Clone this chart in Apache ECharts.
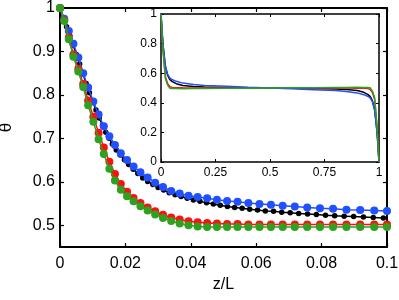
<!DOCTYPE html>
<html>
<head>
<meta charset="utf-8">
<script src="https://cdn.jsdelivr.net/npm/echarts@6/dist/echarts.min.js"></script>
<style>
html,body{margin:0;padding:0;background:#fff;}
#chart{width:399px;height:300px;}
</style>
</head>
<body>
<div id="chart"></div>
<script>
// ---------- main plot data (z/L in [0, 0.1]) ----------
const zMain = [0, 0.0013, 0.0027, 0.0041, 0.0056, 0.0071, 0.0086, 0.0102, 0.0118, 0.0134, 0.0151, 0.0168, 0.0186, 0.0205, 0.0225, 0.0246, 0.0268, 0.0291, 0.0315, 0.034, 0.0366, 0.0393, 0.0421, 0.045, 0.048, 0.0511, 0.0543, 0.0576, 0.061, 0.0645, 0.0681, 0.0718, 0.0756, 0.0795, 0.0835, 0.0876, 0.0918, 0.0961, 0.1];
const thetaBlue = [1.0, 0.975, 0.947, 0.918, 0.886, 0.850, 0.817, 0.785, 0.755, 0.728, 0.705, 0.685, 0.666, 0.650, 0.635, 0.622, 0.610, 0.598, 0.588, 0.579, 0.573, 0.568, 0.565, 0.562, 0.559, 0.556, 0.554, 0.551, 0.549, 0.547, 0.545, 0.543, 0.541, 0.539, 0.538, 0.536, 0.535, 0.534, 0.533];
const thetaRed = [1.0, 0.972, 0.932, 0.893, 0.860, 0.825, 0.787, 0.750, 0.713, 0.679, 0.646, 0.618, 0.595, 0.577, 0.563, 0.551, 0.541, 0.532, 0.524, 0.518, 0.513, 0.509, 0.507, 0.505, 0.504, 0.503, 0.503, 0.502, 0.502, 0.502, 0.502, 0.502, 0.502, 0.502, 0.502, 0.502, 0.502, 0.502, 0.502];
const thetaGreen = [1.0, 0.970, 0.928, 0.888, 0.854, 0.818, 0.776, 0.738, 0.698, 0.664, 0.630, 0.603, 0.582, 0.567, 0.555, 0.544, 0.534, 0.525, 0.517, 0.510, 0.504, 0.500, 0.497, 0.496, 0.496, 0.496, 0.496, 0.496, 0.496, 0.496, 0.496, 0.496, 0.496, 0.496, 0.496, 0.496, 0.496, 0.496, 0.496];
const zBlack = [0, 0.001, 0.002, 0.003, 0.004, 0.005, 0.006, 0.007, 0.008, 0.009, 0.010, 0.011, 0.012, 0.013, 0.014, 0.015, 0.016, 0.0172, 0.0184, 0.0197, 0.021, 0.0224, 0.0238, 0.0253, 0.0268, 0.0284, 0.03, 0.0317, 0.0334, 0.0352, 0.037, 0.0389, 0.0408, 0.0428, 0.0448, 0.0469, 0.049, 0.0512, 0.0534, 0.0557, 0.058, 0.0604, 0.0628, 0.0653, 0.0678, 0.0704, 0.073, 0.0757, 0.0784, 0.0812, 0.084, 0.0869, 0.0898, 0.0928, 0.0958, 0.0989];
const thetaBlack = [1.0, 0.978, 0.957, 0.936, 0.914, 0.893, 0.871, 0.848, 0.826, 0.805, 0.785, 0.765, 0.747, 0.730, 0.714, 0.700, 0.687, 0.673, 0.662, 0.651, 0.640, 0.629, 0.619, 0.609, 0.601, 0.594, 0.587, 0.581, 0.575, 0.570, 0.566, 0.562, 0.558, 0.555, 0.552, 0.549, 0.546, 0.543, 0.541, 0.539, 0.537, 0.535, 0.533, 0.532, 0.530, 0.529, 0.527, 0.526, 0.525, 0.523, 0.522, 0.521, 0.520, 0.519, 0.518, 0.517];

// ---------- inset data (z/L in [0, 1]) ----------
const zInset = [0, 0.005, 0.01, 0.02, 0.03, 0.04, 0.05, 0.07, 0.1, 0.15, 0.2, 0.3, 0.4, 0.5, 0.6, 0.7, 0.8, 0.85, 0.9, 0.93, 0.95, 0.96, 0.97, 0.98, 0.99, 0.995, 1];
const insetBlack = [1, 0.875, 0.78, 0.645, 0.587, 0.558, 0.545, 0.529, 0.517, 0.51, 0.507, 0.504, 0.502, 0.5, 0.498, 0.496, 0.493, 0.49, 0.483, 0.471, 0.455, 0.442, 0.413, 0.355, 0.22, 0.125, 0];
const insetRed = [1, 0.865, 0.75, 0.578, 0.53, 0.51, 0.504, 0.502, 0.501, 0.5, 0.5, 0.5, 0.5, 0.5, 0.5, 0.5, 0.5, 0.5, 0.499, 0.498, 0.496, 0.49, 0.47, 0.422, 0.25, 0.135, 0];
const insetBlue = [1, 0.88, 0.785, 0.65, 0.593, 0.568, 0.557, 0.545, 0.533, 0.524, 0.517, 0.511, 0.505, 0.5, 0.495, 0.489, 0.483, 0.476, 0.467, 0.455, 0.443, 0.432, 0.407, 0.35, 0.215, 0.12, 0];
const insetGreen = [1, 0.855, 0.737, 0.566, 0.521, 0.499, 0.496, 0.496, 0.4955, 0.4965, 0.497, 0.498, 0.499, 0.5, 0.501, 0.502, 0.503, 0.5035, 0.5045, 0.504, 0.504, 0.501, 0.479, 0.434, 0.263, 0.145, 0];

// ---------- ticks ----------
const mainYTicks = [0.5, 0.6, 0.7, 0.8, 0.9, 1];

const BLUE = '#2050ff', RED = '#ff1010', GREEN = '#2fa020', BLACK = '#000000';
const FONT = 'Liberation Sans, Arial, Helvetica, sans-serif';

function zip(xs, ys) { return xs.map((x, i) => [x, ys[i]]); }
function fmt(v) { return String(parseFloat(Number(v).toFixed(4))); }

const chart = echarts.init(document.getElementById('chart'), null, {renderer: 'canvas'});

const axisLineMain = {show: true, onZero: false, lineStyle: {color: '#000', width: 2}};
const tickMain = {show: true, inside: true, length: 4, lineStyle: {color: '#000', width: 1.2}};
const axisLineIn = {show: true, onZero: false, lineStyle: {color: '#000', width: 1.5}};
const tickIn = {show: true, inside: true, length: 3, lineStyle: {color: '#000', width: 1}};

function mainSeries(name, xs, ys, color, size, z) {
  return {
    name, type: 'line', xAxisIndex: 0, yAxisIndex: 0, data: zip(xs, ys),
    symbol: 'circle', symbolSize: size, showSymbol: true,
    itemStyle: {color: color, borderWidth: 0},
    lineStyle: {color: color, width: 1.5},
    animation: false, z: z, silent: true
  };
}
function insetSeries(name, ys, color, z) {
  return {
    name, type: 'line', xAxisIndex: 2, yAxisIndex: 2, data: zip(zInset, ys),
    symbol: 'none', lineStyle: {color: color, width: 1.5},
    animation: false, z: z, silent: true
  };
}

chart.setOption({
  backgroundColor: '#fff',
  animation: false,
  grid: [
    {left: 60, top: 8, width: 327, height: 239, show: false, containLabel: false, outerBoundsMode: 'none'},
    {left: 161, top: 14, width: 218, height: 148, show: true, backgroundColor: '#fff', borderWidth: 0, z: 3, containLabel: false, outerBoundsMode: 'none'}
  ],
  xAxis: [
    {type: 'value', gridIndex: 0, min: 0, max: 0.1, interval: 0.02, position: 'bottom',
     axisLine: axisLineMain, axisTick: tickMain, splitLine: {show: false},
     axisLabel: {color: '#000', fontSize: 16, fontFamily: FONT, margin: 9, formatter: fmt},
     name: 'z/L', nameLocation: 'middle', nameGap: 29,
     nameTextStyle: {color: '#000', fontSize: 16, fontFamily: FONT}},
    {type: 'value', gridIndex: 0, min: 0, max: 0.1, interval: 0.02, position: 'top',
     axisLine: axisLineMain, axisTick: tickMain, splitLine: {show: false}, axisLabel: {show: false}},
    {type: 'value', gridIndex: 1, min: 0, max: 1, interval: 0.25, position: 'bottom', z: 4,
     axisLine: axisLineIn, axisTick: tickIn, splitLine: {show: false},
     axisLabel: {color: '#000', fontSize: 12, fontFamily: FONT, margin: 5, formatter: fmt}},
    {type: 'value', gridIndex: 1, min: 0, max: 1, interval: 0.25, position: 'top', z: 4,
     axisLine: axisLineIn, axisTick: tickIn, splitLine: {show: false}, axisLabel: {show: false}}
  ],
  yAxis: [
    {type: 'value', gridIndex: 0, min: 0.45, max: 1, position: 'left',
     axisLine: axisLineMain, axisTick: Object.assign({customValues: mainYTicks}, tickMain), splitLine: {show: false},
     axisLabel: {customValues: mainYTicks, color: '#000', fontSize: 16, fontFamily: FONT, margin: 5, formatter: fmt},
     name: 'θ', nameLocation: 'middle', nameGap: 45, nameRotate: 90,
     nameTextStyle: {color: '#000', fontSize: 17, fontFamily: FONT}},
    {type: 'value', gridIndex: 0, min: 0.45, max: 1, position: 'right',
     axisLine: axisLineMain, axisTick: Object.assign({customValues: mainYTicks}, tickMain), splitLine: {show: false},
     axisLabel: {show: false}},
    {type: 'value', gridIndex: 1, min: 0, max: 1, interval: 0.2, position: 'left', z: 4,
     axisLine: axisLineIn, axisTick: tickIn, splitLine: {show: false},
     axisLabel: {color: '#000', fontSize: 12, fontFamily: FONT, margin: 4, formatter: fmt}},
    {type: 'value', gridIndex: 1, min: 0, max: 1, interval: 0.2, position: 'right', z: 4,
     axisLine: axisLineIn, axisTick: tickIn, splitLine: {show: false}, axisLabel: {show: false}}
  ],
  series: [
    mainSeries('black', zBlack, thetaBlack, BLACK, 5.5, 2),
    mainSeries('blue', zMain, thetaBlue, BLUE, 8, 3),
    mainSeries('red', zMain, thetaRed, RED, 8, 4),
    mainSeries('green', zMain, thetaGreen, GREEN, 8, 5),
    insetSeries('inset-black', insetBlack, BLACK, 6),
    insetSeries('inset-red', insetRed, RED, 7),
    insetSeries('inset-blue', insetBlue, BLUE, 8),
    insetSeries('inset-green', insetGreen, GREEN, 9)
  ]
});
</script>
</body>
</html>
